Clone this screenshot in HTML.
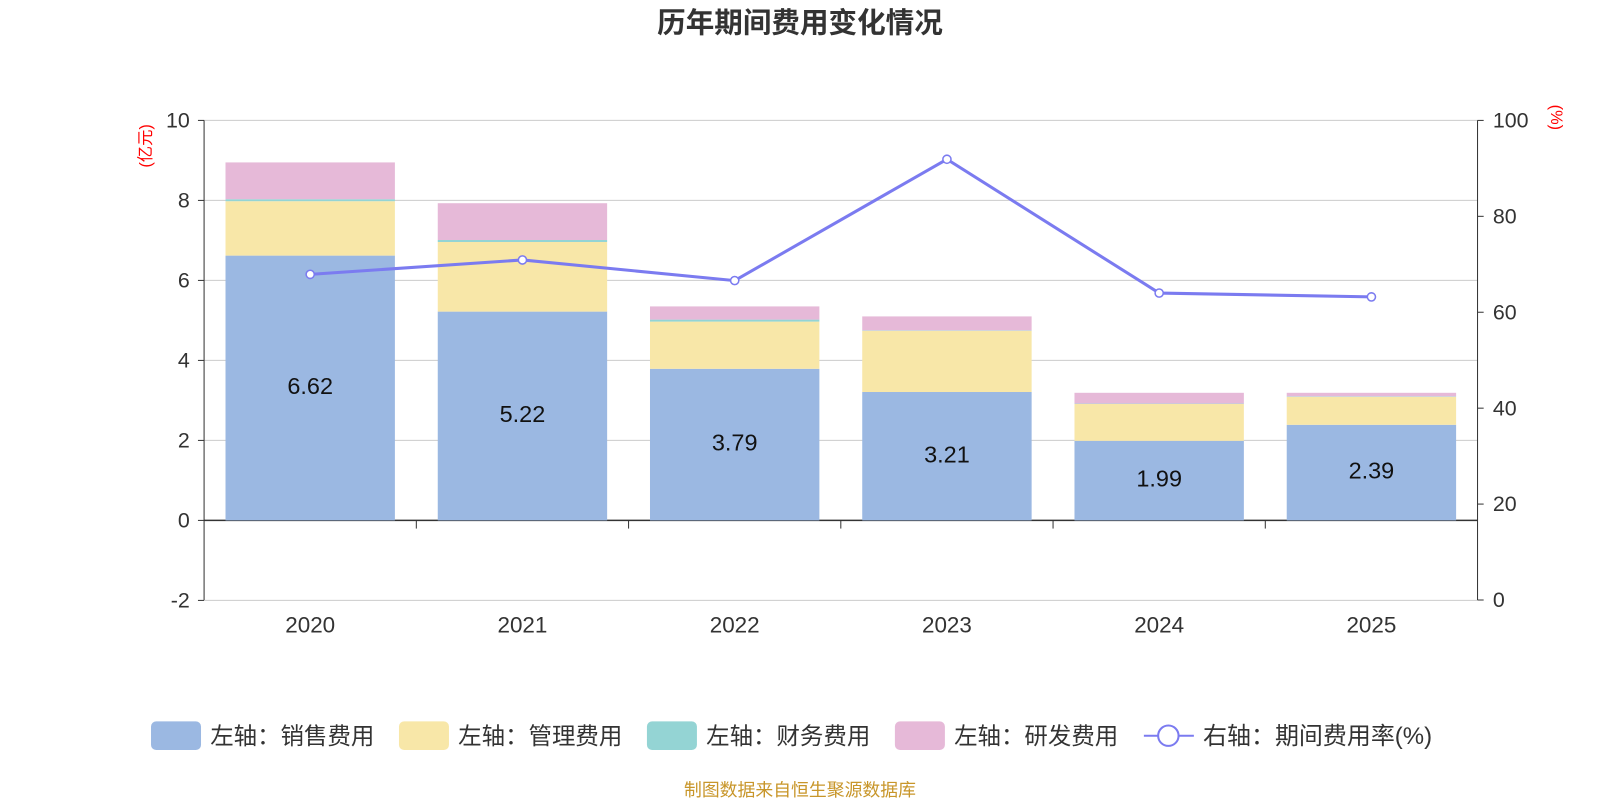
<!DOCTYPE html>
<html><head><meta charset="utf-8"><style>
body{margin:0;background:#fff;width:1600px;height:800px;overflow:hidden;font-family:"Liberation Sans","Noto Sans CJK SC",sans-serif}
</style></head><body>
<svg width="1600" height="800" xmlns="http://www.w3.org/2000/svg"><g id="c" transform="scale(1.0204)"></g></svg>
<script>
const categories=["2020","2021","2022","2023","2024","2025"];
const sales=[6.62,5.22,3.79,3.21,1.99,2.39];
const mgmt=[1.36,1.74,1.18,1.53,0.92,0.70];
const fin=[0.05,0.05,0.05,0.01,0.01,0.01];
const rd=[0.92,0.92,0.33,0.35,0.27,0.09];
const rate=[67.9,70.9,66.6,91.9,64.0,63.2];
const leftTicks=[-2,0,2,4,6,8,10];
const rightTicks=[0,20,40,60,80,100];
const svg=document.getElementById('c');
const NS='http://www.w3.org/2000/svg';
const X0=200,X1=1448,bw=(X1-X0)/categories.length;
const yL=v=>510-v*39.2;
const yR=v=>588-v*4.7;
const xC=i=>X0+bw*(i+0.5);
function mk(tag,attrs,text){const e=document.createElementNS(NS,tag);for(const k in attrs)e.setAttribute(k,attrs[k]);if(text!==undefined)e.textContent=text;svg.appendChild(e);return e;}
let e;
e=mk('text',{x:784,y:32,'text-anchor':'middle','font-size':28,'font-weight':'bold',fill:'#333'},'历年期间费用变化情况');


leftTicks.forEach(t=>{
 e=mk('line',{x1:X0,x2:X1,y1:yL(t),y2:yL(t),stroke:t===0?'#333':'#ccc','stroke-width':t===0?1.5:1});
 
 
 e=mk('line',{x1:X0-6,x2:X0,y1:yL(t),y2:yL(t),stroke:'#333'});
 
 
 e=mk('text',{x:X0-14,y:yL(t)+7,'text-anchor':'end','font-size':21,fill:'#333'},String(t));
 
 
});
rightTicks.forEach(t=>{
 e=mk('line',{x1:X1,x2:X1+6,y1:yR(t),y2:yR(t),stroke:'#333'});
 
 
 e=mk('text',{x:X1+15,y:yR(t)+7,'font-size':21,fill:'#333'},String(t));
 
 
});
e=mk('line',{x1:X0,x2:X0,y1:118,y2:588,stroke:'#333'});


e=mk('line',{x1:X1,x2:X1,y1:118,y2:588,stroke:'#333'});


for(let i=1;i<categories.length;i++){
 e=mk('line',{x1:X0+bw*i,x2:X0+bw*i,y1:510,y2:518,stroke:'#333'});
 
 
}
e=mk('text',{x:0,y:0,'font-size':16,fill:'red',transform:'translate(148,143) rotate(-90)','text-anchor':'middle'},'(亿元)');


e=mk('text',{x:0,y:0,'font-size':16,fill:'red',transform:'translate(1520,115) rotate(90)','text-anchor':'middle'},'(%)');


const series=[[sales,'#9bb8e2','sales'],[mgmt,'#f8e7a8','mgmt'],[fin,'#94d4d4','finance'],[rd,'#e6b9d8','rd']];
categories.forEach((c,i)=>{
 let base=0;
 series.forEach(([arr,col,n])=>{
  const v=arr[i];
  e=mk('rect',{x:xC(i)-83,y:yL(base+v),width:166,height:v*39.2,fill:col});
  
  
  base+=v;
 });
 e=mk('text',{x:xC(i),y:yL(sales[i]/2)+6,'text-anchor':'middle','font-size':23,fill:'#111'},sales[i].toFixed(2));
 
 
 e=mk('text',{x:xC(i),y:620,'text-anchor':'middle','font-size':22,fill:'#333'},c);
 
 
});
e=mk('polyline',{points:rate.map((v,i)=>xC(i)+','+yR(v)).join(' '),fill:'none',stroke:'#7b7bf0','stroke-width':3});


rate.forEach((v,i)=>{
 e=mk('circle',{cx:xC(i),cy:yR(v),r:4,fill:'#fff',stroke:'#7b7bf0','stroke-width':1.5});
 
 
});
const leg=[['#9bb8e2','左轴：销售费用',148],['#f8e7a8','左轴：管理费用',391],['#94d4d4','左轴：财务费用',634],['#e6b9d8','左轴：研发费用',877]];
leg.forEach(([col,t,x])=>{
 e=mk('rect',{x:x,y:707,width:49,height:28,rx:5,fill:col});
 
 
 e=mk('text',{x:x+58,y:729,'font-size':23,fill:'#333'},t);
 
 
});
e=mk('line',{x1:1121,x2:1170,y1:721,y2:721,stroke:'#7b7bf0','stroke-width':2});


e=mk('circle',{cx:1145,cy:721,r:10,fill:'#fff',stroke:'#7b7bf0','stroke-width':2});


e=mk('text',{x:1179,y:729,'font-size':23.5,fill:'#333'},'右轴：期间费用率(%)');


e=mk('text',{x:784,y:780,'text-anchor':'middle','font-size':17.5,fill:'#c8962a'},'制图数据来自恒生聚源数据库');


</script>
</body></html>
